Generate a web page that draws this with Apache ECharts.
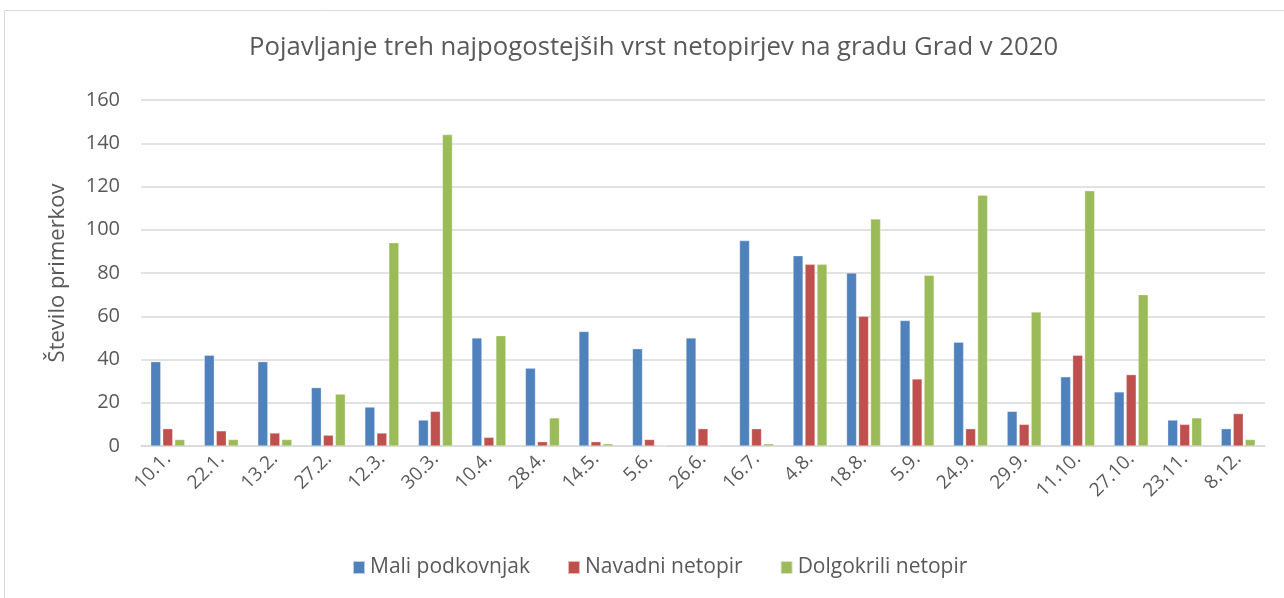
<!DOCTYPE html>
<html>
<head>
<meta charset="utf-8">
<script src="https://cdn.jsdelivr.net/npm/echarts@6/dist/echarts.min.js"></script>
<style>
html,body{margin:0;padding:0;background:#fff;}
#main{width:1284px;height:598px;}
</style>
</head>
<body>
<div id="main"></div>
<script>
const categories = ['10.1.','22.1.','13.2.','27.2.','12.3.','30.3.','10.4.','28.4.','14.5.','5.6.','26.6.','16.7.','4.8.','18.8.','5.9.','24.9.','29.9.','11.10.','27.10.','23.11.','8.12.'];
const maliPodkovnjak = [39,42,39,27,18,12,50,36,53,45,50,95,88,80,58,48,16,32,25,12,8];
const navadniNetopir = [8,7,6,5,6,16,4,2,2,3,8,8,84,60,31,8,10,42,33,10,15];
const dolgokriliNetopir = [3,3,3,24,94,144,51,13,1,0,0,1,84,105,79,116,62,118,70,13,3];
const seriesNames = ['Mali podkovnjak','Navadni netopir','Dolgokrili netopir'];
const titleText = 'Pojavljanje treh najpogostejših vrst netopirjev na gradu Grad v 2020';
const yAxisName = 'Število primerkov';

const font = 'Open Sans';
const textColor = '#595959';
const chart = echarts.init(document.getElementById('main'), null, {renderer:'canvas'});
const barStyle = (c) => ({color:c, borderColor:'rgba(255,255,255,0.6)', borderWidth:0.5});
chart.setOption({
  animation:false,
  backgroundColor:'#fff',
  graphic:[{type:'rect', shape:{x:4.5,y:10.5,width:1300,height:600}, style:{fill:'none', stroke:'#D9D9D9', lineWidth:1}}],
  title:{text:titleText, left:244, top:30, textStyle:{fontFamily:font, fontSize:25.7, fontWeight:'normal', color:textColor}},
  grid:{left:141, right:19, top:100, bottom:152, containLabel:false},
  legend:{bottom:15, left:347, itemWidth:12, itemHeight:13, itemGap:37, icon:'rect',
    textStyle:{fontFamily:font, fontSize:21, color:textColor}, data:seriesNames},
  xAxis:{type:'category', data:categories,
    axisLine:{lineStyle:{color:'#D9D9D9', width:1.5}}, axisTick:{show:false},
    axisLabel:{rotate:45, interval:0, fontFamily:font, fontSize:19, color:textColor, margin:10}},
  yAxis:{type:'value', min:0, max:160, interval:20, name:yAxisName, nameLocation:'middle', nameGap:72,
    nameTextStyle:{fontFamily:font, fontSize:22, color:textColor},
    axisLine:{show:false}, axisTick:{show:false},
    axisLabel:{fontFamily:font, fontSize:20, color:textColor, margin:21},
    splitLine:{lineStyle:{color:'#D9D9D9', width:1.5}}},
  series:[
    {name:seriesNames[0], type:'bar', data:maliPodkovnjak, barWidth:10, barGap:'20%', itemStyle:barStyle('#4F81BD')},
    {name:seriesNames[1], type:'bar', data:navadniNetopir, barWidth:10, barGap:'20%', itemStyle:barStyle('#C0504D')},
    {name:seriesNames[2], type:'bar', data:dolgokriliNetopir, barWidth:10, barGap:'20%', itemStyle:barStyle('#9BBB59')}
  ]
});
</script>
</body>
</html>
